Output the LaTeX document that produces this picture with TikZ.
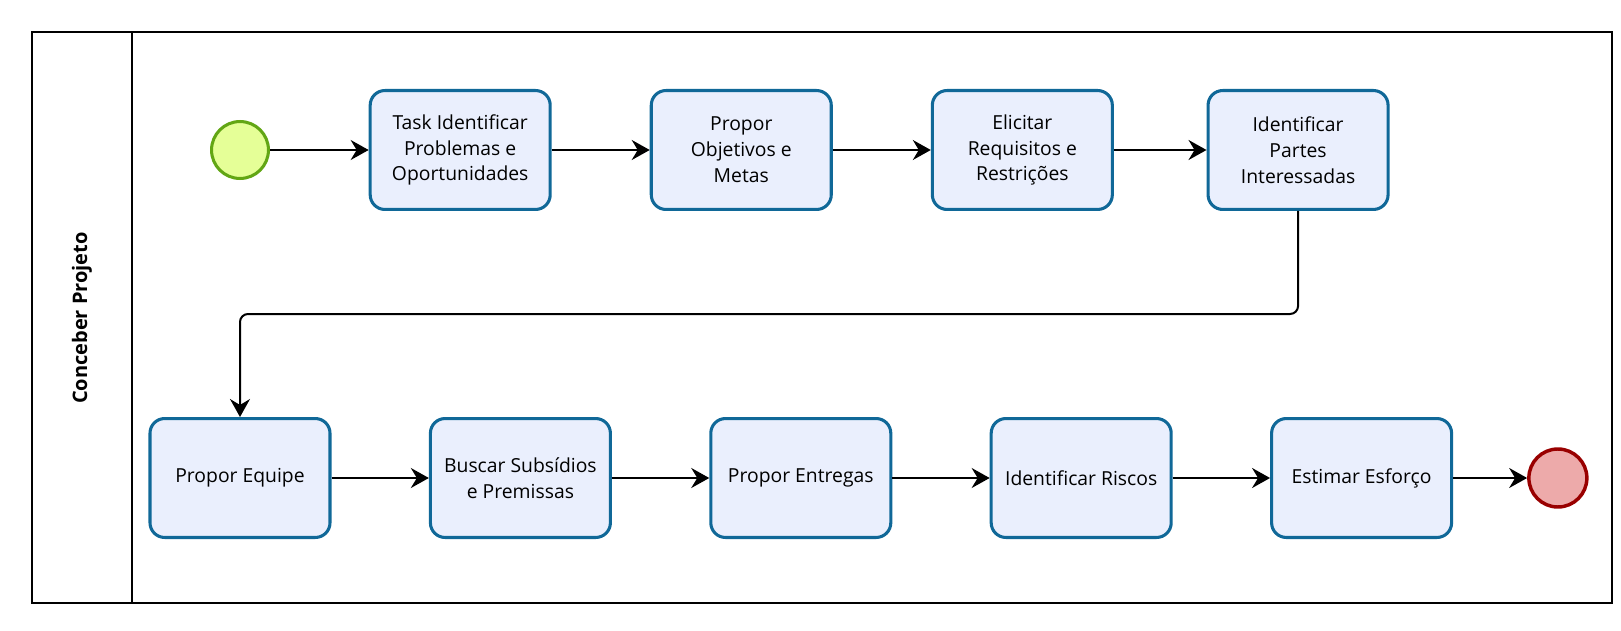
\documentclass[tikz,border=0pt]{standalone}
\usepackage{fontspec}
\setmainfont{Open Sans}
\usetikzlibrary{arrows.meta, positioning, calc}
\definecolor{taskfill}{RGB}{234,239,253}
\definecolor{taskline}{RGB}{16,104,152}
\definecolor{startfill}{RGB}{229,255,151}
\definecolor{startline}{RGB}{98,166,20}
\definecolor{endfill}{RGB}{237,170,170}
\definecolor{endline}{RGB}{153,0,0}

\begin{document}
\begin{tikzpicture}[x=0.75pt, y=-0.75pt, node distance=73.5pt, font=\fontsize{14.5}{19.4}\selectfont, task/.style={rectangle, rounded corners=11pt, draw=taskline, fill=taskfill, line width=2.3pt, minimum width=135pt, minimum height=89.2pt, align=center}, startev/.style={circle, draw=startline, fill=startfill, line width=2.3pt, minimum size=42.7pt}, endev/.style={circle, draw=endline, fill=endfill, line width=2.6pt, minimum size=43.5pt}, flow/.style={-{Stealth[length=13.5pt, width=15pt, inset=4.5pt]}, line width=1.5pt}]
\useasboundingbox (0,0) rectangle (1621,631);
% pool
\draw[line width=1.5pt] (32,32) rectangle (1612,603);
\draw[line width=1.5pt] (132,32) -- (132,603);
\node[rotate=90, font=\fontsize{15}{17}\selectfont\bfseries] (pool) at (82,318) {Conceber Projeto};
% events and tasks
\node[startev] (start) at (240,150) {};
\node[task] (ident)  [right=74pt of start] {Task Identificar\\Problemas e\\Oportunidades};
\node[task] (objet)  [right=of ident] {Propor\\Objetivos e\\Metas};
\node[task] (requi)  [right=of objet] {Elicitar\\Requisitos e\\Restrições};
\node[task] (partes) [right=69.5pt of requi] {Identificar\\Partes\\Interessadas};
\node[task] (equipe) at (240,478) {Propor Equipe};
\node[task] (subsid) [right=73pt of equipe] {Buscar Subsídios\\e Premissas};
\node[task] (entreg) [right=73pt of subsid] {Propor Entregas};
\node[task] (riscos) [right=73pt of entreg] {Identificar Riscos};
\node[task] (esforc) [right=73pt of riscos] {Estimar Esforço};
\node[endev] (fim) [right=55.5pt of esforc] {};
\path[flow]
(start) edge (ident)
(ident) edge (objet)
(objet) edge (requi)
(requi) edge (partes)
(equipe) edge (subsid)
(subsid) edge (entreg)
(entreg) edge (riscos)
(riscos) edge (esforc)
(esforc) edge (fim);
\draw[flow, rounded corners=6pt] (partes.south) |- ($(partes.south)!0.5!(equipe.north)$) -| (equipe.north);
\end{tikzpicture}
\end{document}
